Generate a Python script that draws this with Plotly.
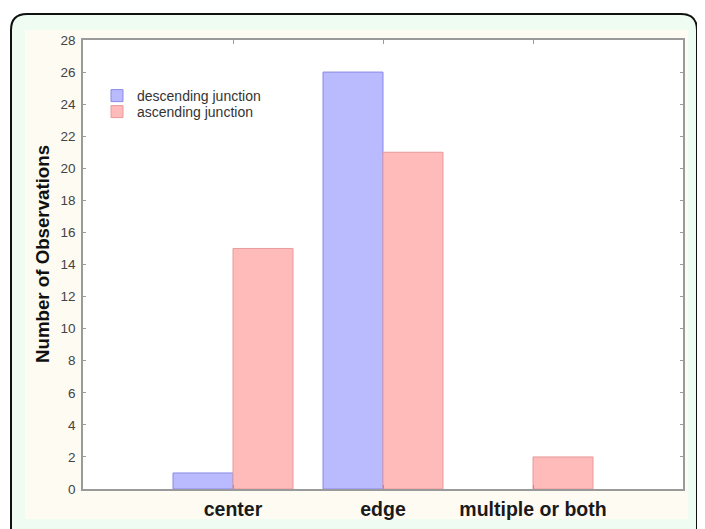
import plotly.graph_objects as go

categories = ["center", "edge", "multiple or both"]
descending = [1, 26, 0]
ascending = [15, 21, 2]
series_names = ["descending junction", "ascending junction"]
y_ticks = list(range(0, 29, 2))

W, H = 705, 529
OFF = 8  # page body margin in the browser
# plot-area edges in screen pixels
SL, SR, ST, SB = 83, 683, 40, 489
L, R, T, B = SL - OFF, SR - OFF, ST - OFF, SB - OFF


def px(x):
    return (x - SL) / (SR - SL)


def py(y):
    return (SB - y) / (SB - ST)


def rounded(x0, y0, x1, y1, r):
    return (f"M {px(x0 + r)},{py(y0)} L {px(x1 - r)},{py(y0)} "
            f"Q {px(x1)},{py(y0)} {px(x1)},{py(y0 + r)} "
            f"L {px(x1)},{py(y1)} L {px(x0)},{py(y1)} "
            f"L {px(x0)},{py(y0 + r)} Q {px(x0)},{py(y0)} {px(x0 + r)},{py(y0)} Z")


FONT = "Liberation Sans, Arial, Helvetica, sans-serif"

fig = go.Figure()
fig.add_trace(go.Bar(
    x=categories, y=[v if v else None for v in descending], name=series_names[0],
    marker=dict(color="#babaff", line=dict(color="#8a8ae8", width=1)),
    legend="legend",
))
fig.add_trace(go.Bar(
    x=categories, y=[v if v else None for v in ascending], name=series_names[1],
    marker=dict(color="#ffbaba", line=dict(color="#e89a9a", width=1)),
    legend="legend2",
))

shapes = [
    dict(type="path", xref="paper", yref="paper", layer="below",
         path=rounded(11, 14, 697, 560, 16),
         fillcolor="#effcf1", line=dict(color="#111111", width=2)),
    dict(type="rect", xref="paper", yref="paper", layer="below",
         x0=px(25), x1=px(688), y0=py(519), y1=py(30),
         fillcolor="#fefbf2", line=dict(width=0)),
    dict(type="rect", xref="paper", yref="paper", layer="below",
         x0=0, x1=1, y0=0, y1=1,
         fillcolor="#ffffff", line=dict(width=0)),
]

legend_common = dict(
    xanchor="left", yanchor="middle",
    bgcolor="rgba(0,0,0,0)", borderwidth=0,
    font=dict(size=14, color="#333333", family=FONT),
    itemclick=False, itemdoubleclick=False,
)

fig.update_layout(
    width=W, height=H,
    margin=dict(l=L, r=W - R, t=T, b=H - B, pad=0),
    paper_bgcolor="#ffffff",
    plot_bgcolor="rgba(0,0,0,0)",
    barmode="group",
    bargap=0.2,
    bargroupgap=0,
    shapes=shapes,
    font=dict(family=FONT),
    showlegend=True,
    legend=dict(x=px(97), y=py(96), **legend_common),
    legend2=dict(x=px(97), y=py(112), **legend_common),
    xaxis=dict(
        type="category", range=[-1, 3],
        showgrid=False, zeroline=False,
        showline=True, linecolor="#9a9a9a", linewidth=1.5, mirror="ticks",
        ticks="inside", ticklen=4, tickcolor="#9a9a9a",
        tickfont=dict(size=19.5, color="#1a1a1a", family=FONT, weight="bold"),
        ticklabelstandoff=2,
    ),
    yaxis=dict(
        range=[0, 28], tickvals=y_ticks,
        showgrid=False, zeroline=False,
        showline=True, linecolor="#9a9a9a", linewidth=1.5, mirror="ticks",
        ticks="inside", ticklen=3, tickcolor="#9a9a9a",
        tickfont=dict(size=13.5, color="#444444", family=FONT),
        ticklabelstandoff=3,
    ),
    annotations=[dict(
        text="<b>Number of Observations</b>", textangle=-90,
        xref="paper", yref="paper", x=px(42), y=py(254),
        xanchor="center", yanchor="middle", showarrow=False,
        font=dict(size=18.7, color="#111111", family=FONT),
    )],
)

fig.write_html("out.html")
